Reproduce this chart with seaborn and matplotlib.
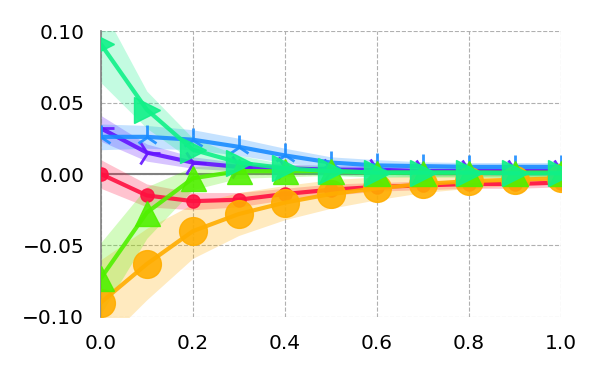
import numpy as np
import pandas as pd
import matplotlib
matplotlib.use("Agg")
import matplotlib.pyplot as plt
import seaborn as sns

x = [0.0, 0.1, 0.2, 0.3, 0.4, 0.5, 0.6, 0.7, 0.8, 0.9, 1.0]

red_y = [0.0, -0.015, -0.019, -0.018, -0.014, -0.011, -0.009, -0.008, -0.007, -0.007, -0.006]
red_err = [0.010, 0.008, 0.006, 0.005, 0.004, 0.004, 0.003, 0.003, 0.003, 0.003, 0.003]

orange_y = [-0.090, -0.063, -0.040, -0.028, -0.020, -0.014, -0.010, -0.007, -0.005, -0.004, -0.003]
orange_err = [0.030, 0.025, 0.019, 0.015, 0.012, 0.010, 0.008, 0.006, 0.005, 0.004, 0.004]

lime_y = [-0.073, -0.027, -0.003, 0.002, 0.002, 0.002, 0.001, 0.001, 0.001, 0.001, 0.001]
lime_err = [0.025, 0.018, 0.008, 0.005, 0.004, 0.003, 0.003, 0.003, 0.003, 0.003, 0.003]

green_y = [0.091, 0.045, 0.017, 0.008, 0.004, 0.002, 0.001, 0.001, 0.001, 0.0005, 0.0005]
green_err = [0.027, 0.013, 0.008, 0.005, 0.003, 0.003, 0.003, 0.003, 0.003, 0.003, 0.003]

blue_y = [0.026, 0.026, 0.024, 0.019, 0.013, 0.008, 0.006, 0.0055, 0.005, 0.005, 0.005]
blue_err = [0.009, 0.008, 0.007, 0.006, 0.005, 0.004, 0.004, 0.003, 0.003, 0.003, 0.003]

violet_y = [0.032, 0.015, 0.008, 0.005, 0.004, 0.003, 0.003, 0.002, 0.002, 0.002, 0.002]
violet_err = [0.009, 0.006, 0.004, 0.003, 0.003, 0.003, 0.003, 0.003, 0.003, 0.003, 0.003]

xticks = [0.0, 0.2, 0.4, 0.6, 0.8, 1.0]
xtick_labels = ["0.0", "0.2", "0.4", "0.6", "0.8", "1.0"]
yticks = [-0.10, -0.05, 0.0, 0.05, 0.10]
ytick_labels = ["\u22120.10", "\u22120.05", "0.00", "0.05", "0.10"]

sns.set_style("white")
plt.rcParams['font.family'] = ['DejaVu Sans']

fig = plt.figure(figsize=(6, 3.75), dpi=100)
ax = fig.add_axes([0.168, 0.155, 0.767, 0.762])

series = [
    (violet_y, violet_err, "#6414ff", "4", 19, 2.0),
    (blue_y, blue_err, "#1a8cff", "2", 17, 2.0),
    (red_y, red_err, "#ff1040", "o", 9.5, 1.0),
    (orange_y, orange_err, "#ffad00", "o", 20, 1.0),
    (lime_y, lime_err, "#50f000", "^", 18, 1.0),
    (green_y, green_err, "#10f088", ">", 19, 1.0),
]

for i, (yv, ev, col, mk, ms, mew) in enumerate(series):
    yv = np.array(yv)
    ev = np.array(ev)
    ax.fill_between(x, yv - ev, yv + ev, color=col, alpha=0.25, lw=0, zorder=2 + i * 0.1)
    df = pd.DataFrame({"x": x, "y": yv})
    sns.lineplot(data=df, x="x", y="y", ax=ax, color=col, lw=3, alpha=0.9,
                 marker=mk, markersize=ms, markeredgewidth=mew if mk in ("2", "4") else 1.0,
                 markeredgecolor=col, zorder=3 + i * 0.1)

ax.axhline(0, color="#808080", lw=1.5, zorder=1.5)

ax.set_xlim(0, 1)
ax.set_ylim(-0.1, 0.1)
ax.set_xticks(xticks)
ax.set_xticklabels(xtick_labels)
ax.set_yticks(yticks)
ax.set_yticklabels(ytick_labels)
ax.set_xlabel("")
ax.set_ylabel("")
ax.tick_params(axis="both", length=0, labelsize=14.5, pad=12, colors="black")
ax.grid(True, linestyle="--", color="#b0b0b0", lw=0.8)
ax.set_axisbelow(True)
for s in ["top", "right", "bottom"]:
    ax.spines[s].set_visible(False)
ax.spines["left"].set_color("#808080")
ax.spines["left"].set_linewidth(1.2)

fig.savefig("out.png", dpi=100)
